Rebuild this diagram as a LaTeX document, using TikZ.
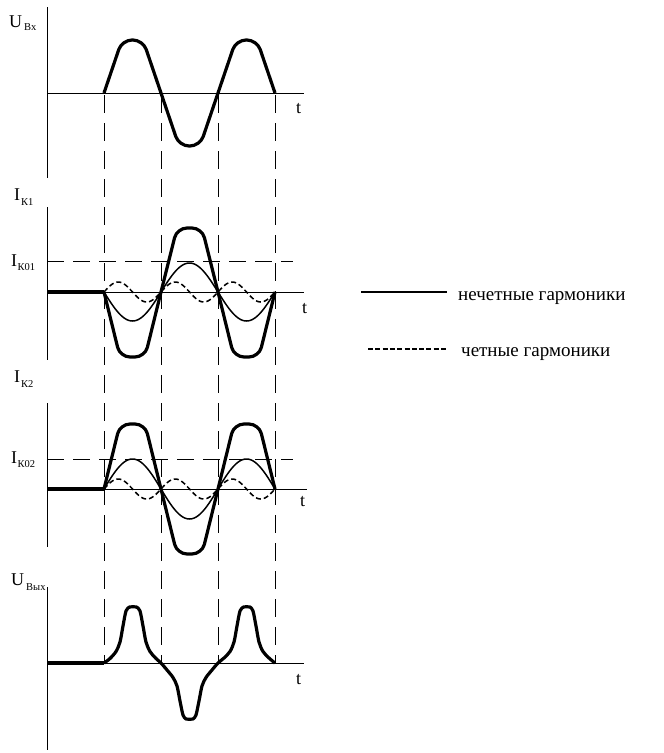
\documentclass[tikz,border=0pt]{standalone}
\usepackage{fontspec}
\setmainfont{Liberation Serif}
\newcommand{\sbs}[2]{\raisebox{-#1}{\fontsize{10.5}{11}\selectfont #2}}
\begin{document}
\begin{tikzpicture}[x=1pt,y=-1pt,
  axis/.style={line width=0.9pt},
  vdash/.style={line width=0.9pt, dash pattern=on 18pt off 10pt},
  hdash/.style={line width=0.9pt, dash pattern=on 17pt off 9pt},
  thickw/.style={line width=3.2pt, line join=round},
  oddw/.style={line width=1.5pt},
  evenw/.style={line width=1.5pt, dash pattern=on 5pt off 3pt},
  lab/.style={font=\fontsize{18}{20}\selectfont, inner sep=0pt, anchor=base west},
  leg/.style={font=\fontsize{19}{21}\selectfont, inner sep=0pt, anchor=base west},
]
\useasboundingbox (0,0) rectangle (664,753);

% vertical dashed guide lines
\foreach \xx in {104,161,218,275}
  \draw[vdash] (\xx,95) -- (\xx,663);

% ---------- panel 1 : U_Bx ----------
\draw[axis] (47,7) -- (47,178);
\draw[axis] (47,93) -- (304,93);
\node[lab] (u1) at (9,27) {U\hspace{2pt}\sbs{3pt}{Вх}};
\node[lab] (t1) at (296,113) {t};
\draw[thickw, rounded corners=10pt]
  (104,93) -- (122,40) -- (143,40) -- (161,93) -- (179,146) -- (200,146)
  -- (218,93) -- (236,40) -- (257,40) -- (275,93);

% ---------- panel 2 : I_K1 ----------
\draw[axis] (47,207) -- (47,360);
\draw[axis] (47,292) -- (304,292);
\draw[hdash] (47,261) -- (293,261);
\node[lab] (i1) at (14,200) {I\hspace{1pt}\sbs{5pt}{К1}};
\node[lab] (i01) at (11,266) {I\hspace{0.5pt}\sbs{4pt}{К01}};
\node[lab] (t2) at (302,313) {t};
\draw[thickw] (47,292) -- (104,292);
\draw[thickw, rounded corners=10pt]
  (104,292) -- (120,357) -- (145,357) -- (161,292) -- (177,228) -- (202,228)
  -- (218,292) -- (234,357) -- (259,357) -- (275,292);
\draw[oddw] plot[domain=0:540, samples=181, smooth] ({104+\x*0.316667}, {292+29*sin(\x)});
\draw[evenw] plot[domain=0:540, samples=181, smooth] ({104+\x*0.316667}, {292-10*sin(2*\x)});

% ---------- panel 3 : I_K2 ----------
\draw[axis] (47,403) -- (47,547);
\draw[axis] (47,489) -- (307,489);
\draw[hdash] (47,459) -- (293,459);
\node[lab] (i2) at (14,382) {I\hspace{1pt}\sbs{5pt}{К2}};
\node[lab] (i02) at (11,463) {I\hspace{0.5pt}\sbs{4pt}{К02}};
\node[lab] (t3) at (300,506) {t};
\draw[thickw] (47,489) -- (104,489);
\draw[thickw, rounded corners=10pt]
  (104,489) -- (120,424) -- (145,424) -- (161,489) -- (177,554) -- (202,554)
  -- (218,489) -- (234,424) -- (259,424) -- (275,489);
\draw[oddw] plot[domain=0:540, samples=181, smooth] ({104+\x*0.316667}, {489-30*sin(\x)});
\draw[evenw] plot[domain=0:540, samples=181, smooth] ({104+\x*0.316667}, {489-10*sin(2*\x)});

% ---------- panel 4 : U_Vyh ----------
\draw[axis] (47,587) -- (47,750);
\draw[axis] (47,663) -- (304,663);
\node[lab] (u4) at (11,585) {U\hspace{2pt}\sbs{5pt}{Вых}};
\node[lab] (t4) at (296,684) {t};
\draw[thickw] (47,663) -- (104,663);
\draw[thickw] plot[smooth, tension=0.5] coordinates {
  (104,663) (110,658.5) (116,651.5) (120,642) (123,626) (126,611) (129.5,607)
  (133,606.7) (136.5,607) (140,611) (143,626) (146,642) (150,651.5) (155.5,658)
  (161,663) (167,670) (173,677.5) (177,686) (180,701) (183,715) (186,719)
  (189.5,719.3) (193,719) (196,715) (199,701) (202,686) (206,677.5) (212,670)
  (218,663) (224,658) (230,651.5) (234,642) (237,626) (240,611) (243.5,607)
  (246.5,606.7) (250,607) (253,611) (256,626) (259,642) (263,651.5) (269,658)
  (275,663)};

% ---------- legend ----------
\coordinate (la) at (361,292);
\coordinate (lb) at (447,292);
\draw[line width=1.5pt] (la) -- (lb);
\node[leg] (l1) at (458,300) {нечетные гармоники};
\coordinate (lc) at (368,349);
\coordinate (ld) at (447,349);
\draw[line width=1.2pt, dash pattern=on 5pt off 2.3pt] (lc) -- (ld);
\node[leg] (l2) at (461,356) {четные гармоники};
\end{tikzpicture}
\end{document}
